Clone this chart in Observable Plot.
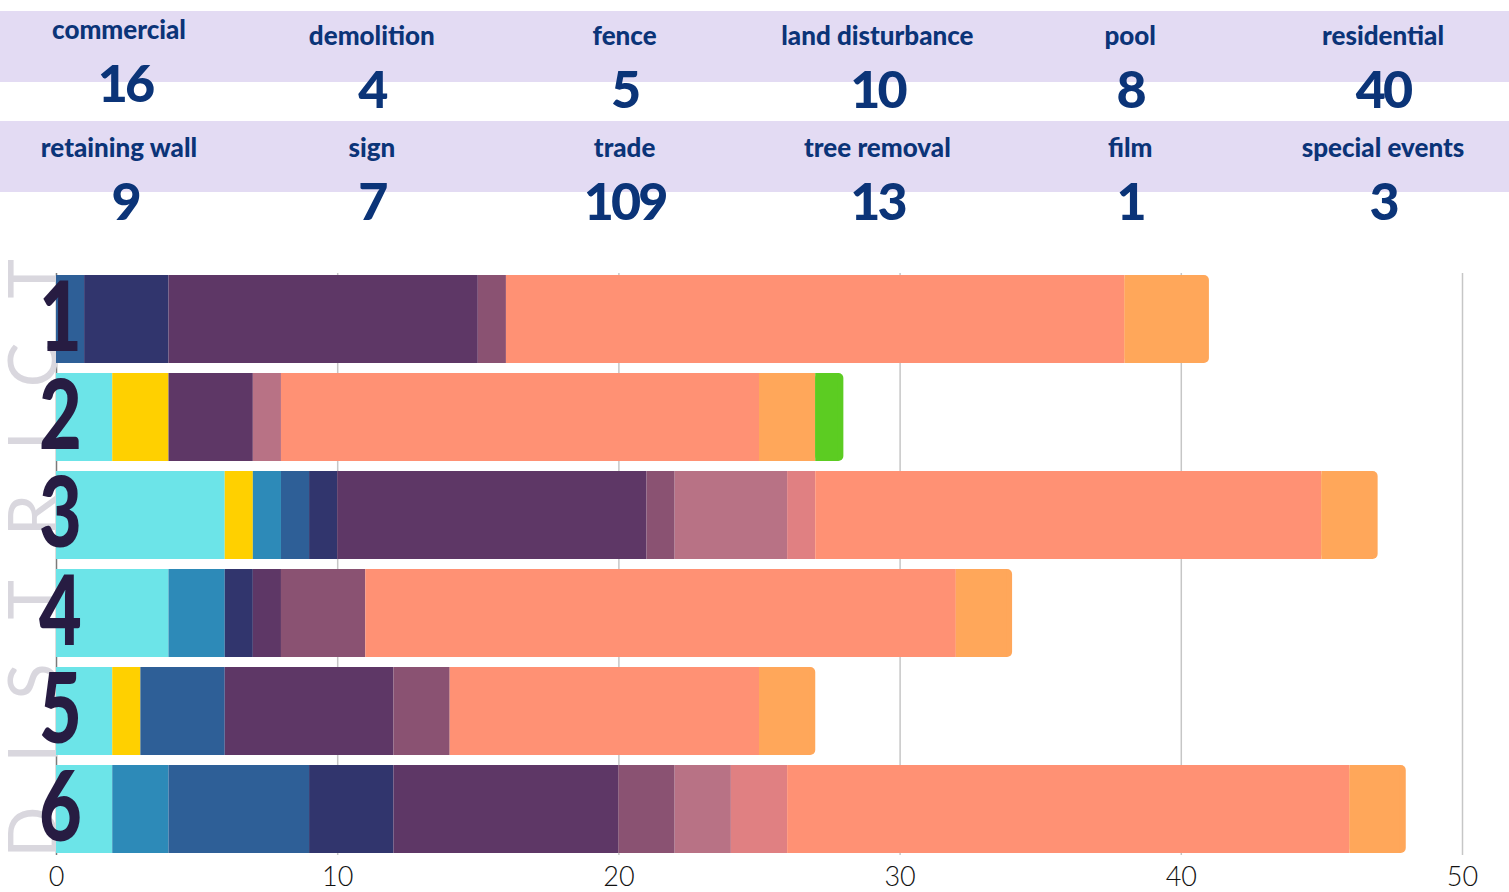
<!DOCTYPE html>
<html>
<head>
<meta charset="utf-8">
<script src="https://cdn.jsdelivr.net/npm/d3@7"></script>
<script src="https://cdn.jsdelivr.net/npm/@observablehq/plot@0.6"></script>
<style>
  html, body { margin: 0; padding: 0; background: #fff; overflow: hidden; }
  #header { display: block; }
  #chart svg { display: block; }
</style>
</head>
<body>
<svg id="header" width="1509" height="240"></svg>
<div id="chart"></div>
<script>
// ---- data ----
const districts = [1, 2, 3, 4, 5, 6];
const categories = ["commercial", "demolition", "fence", "land disturbance", "pool", "residential",
  "retaining wall", "sign", "special events", "trade", "tree removal", "film"];
const colors = ["#6ce4e8", "#ffd000", "#2d8ab8", "#2e5f97", "#31356d", "#5e3766",
  "#8a5272", "#b87285", "#e08082", "#ff9174", "#ffa75a", "#5ccc22"];
// counts per category, for districts 1..6
const commercial      = [0, 2, 6, 4, 2, 2];
const demolition      = [0, 2, 1, 0, 1, 0];
const fence           = [0, 0, 1, 2, 0, 2];
const landDisturbance = [1, 0, 1, 0, 3, 5];
const pool            = [3, 0, 1, 1, 0, 3];
const residential     = [11, 3, 11, 1, 6, 8];
const retainingWall   = [1, 0, 1, 3, 2, 2];
const sign            = [0, 1, 4, 0, 0, 2];
const specialEvents   = [0, 0, 1, 0, 0, 2];
const trade           = [22, 17, 18, 21, 11, 20];
const treeRemoval     = [3, 2, 2, 2, 2, 2];
const film            = [0, 1, 0, 0, 0, 0];
const series = [commercial, demolition, fence, landDisturbance, pool, residential,
  retainingWall, sign, specialEvents, trade, treeRemoval, film];

// header totals
const headerRow1 = ["commercial", "demolition", "fence", "land disturbance", "pool", "residential"];
const headerRow1Values = [16, 4, 5, 10, 8, 40];
const headerRow2 = ["retaining wall", "sign", "trade", "tree removal", "film", "special events"];
const headerRow2Values = [9, 7, 109, 13, 1, 3];
const xTicks = [0, 10, 20, 30, 40, 50];
const axisTitle = "DISTRICT";

// ---- header ----
const ns = "http://www.w3.org/2000/svg";
const hdr = document.getElementById("header");
function el(tag, attrs, text) {
  const e = document.createElementNS(ns, tag);
  for (const k in attrs) e.setAttribute(k, attrs[k]);
  if (text != null) e.textContent = text;
  hdr.appendChild(e);
  return e;
}
el("rect", {x: 0, y: 11, width: 1509, height: 71, fill: "#e3dbf3"});
el("rect", {x: 0, y: 121, width: 1509, height: 71, fill: "#e3dbf3"});
const colX = i => 119 + 252.8 * i;
const navy = "#0b3478";
function row(labels, values, labelY, valueY, firstShift) {
  labels.forEach((lab, i) => {
    const s = (i === 0) ? firstShift : 0;
    el("text", {x: colX(i), y: labelY + s, "text-anchor": "middle", fill: navy,
      "font-family": "Lato, 'Open Sans', sans-serif", "font-weight": 900, "font-size": 26}, lab);
    el("text", {x: colX(i) + (i === 0 ? 6 : 0), y: valueY + s, "text-anchor": "middle", fill: navy,
      "font-family": "Lato, 'Open Sans', sans-serif", "font-weight": 900, "font-size": 52,
      "letter-spacing": "-3"}, String(values[i]));
  });
}
row(headerRow1, headerRow1Values, 45, 108, -6);
row(headerRow2, headerRow2Values, 157, 220, 0);

// ---- chart data (stacked manually in data units) ----
const rows = [];
districts.forEach((d, di) => {
  let cum = 0;
  const segs = [];
  categories.forEach((c, ci) => {
    const v = series[ci][di];
    if (v > 0) { segs.push({district: d, category: c, x1: cum, x2: cum + v}); cum += v; }
  });
  segs.forEach((s, k) => { s.last = (k === segs.length - 1); rows.push(s); });
});
const inner = rows.filter(r => !r.last);
const lastSegs = rows.filter(r => r.last);

const plot = Plot.plot({
  width: 1509,
  height: 652,
  marginLeft: 56,
  marginRight: 47,
  marginTop: 33,
  marginBottom: 37,
  style: {fontFamily: "Lato, sans-serif", fontSize: "27px", color: "#111", background: "transparent"},
  x: {domain: [0, 50], ticks: xTicks, tickSize: 0, tickPadding: 11, label: null},
  y: {domain: districts, paddingInner: 0.107, paddingOuter: 0, axis: null},
  color: {domain: categories, range: colors},
  marks: [
    Plot.ruleX([0], {stroke: "#7a7a7a", strokeWidth: 1.5}),
    Plot.ruleX(xTicks.filter(t => t > 0), {stroke: "#c6c6c6", strokeWidth: 1.5}),
    Plot.text([axisTitle], {frameAnchor: "bottom-left", textAnchor: "start", rotate: -90,
      dx: 0, dy: 2, fontSize: 67, fontWeight: 400, fill: "#d9d7de", fontFamily: "Lato, sans-serif"}),
    Plot.barX(inner, {x1: "x1", x2: "x2", y: "district", fill: "category"}),
    Plot.barX(lastSegs, {x1: "x1", x2: "x2", y: "district", fill: "category", rx: 5}),
    Plot.barX(lastSegs, {x1: "x1", x2: "x2", y: "district", fill: "category", insetRight: 6}),
    Plot.text(districts, {x: () => 0, y: d => d, text: d => String(d), dx: 4,
      fontSize: 97, fontWeight: 900, fill: "#271c42", fontFamily: "Lato, sans-serif"})
  ]
});
document.getElementById("chart").appendChild(plot);
// condensed district numbers; letter spacing for the rotated title
plot.querySelectorAll("g").forEach(g => {
  if (g.getAttribute("font-size") === "97") {
    g.querySelectorAll("text").forEach(t => {
      const w = t.getComputedTextLength();
      t.setAttribute("textLength", (w * 0.76).toFixed(1));
      t.setAttribute("lengthAdjust", "spacingAndGlyphs");
    });
  }
});
plot.querySelectorAll("text").forEach(t => {
  if (t.textContent === axisTitle) t.setAttribute("letter-spacing", "44");
});
plot.querySelectorAll("g[aria-label='x-axis tick label'] text, g[aria-label='x-axis'] text").forEach(t => {
  t.setAttribute("font-weight", "300");
});
</script>
</body>
</html>
